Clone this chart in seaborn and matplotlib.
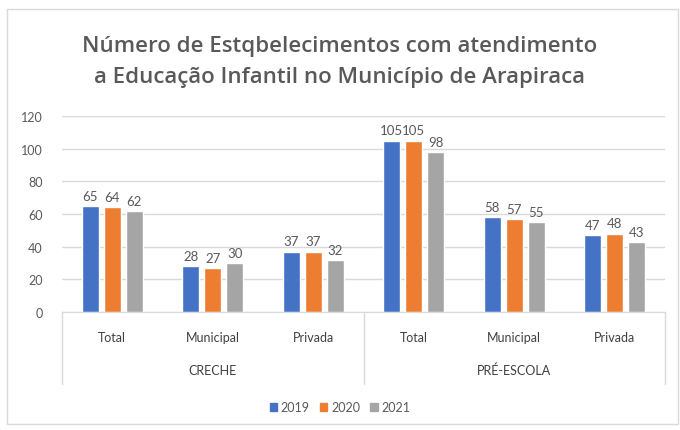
import matplotlib
matplotlib.use("Agg")
import matplotlib.pyplot as plt
import matplotlib.patches as mpatches
import seaborn as sns
import pandas as pd

# dados
niveis = ['CRECHE', 'PRÉ-ESCOLA']
redes = ['Total', 'Municipal', 'Privada']
anos = ['2019', '2020', '2021']
v2019 = [65, 28, 37, 105, 58, 47]
v2020 = [64, 27, 37, 105, 57, 48]
v2021 = [62, 30, 32, 98, 55, 43]
cores = ['#4472C4', '#ED7D31', '#A5A5A5']
titulo = 'Número de Estqbelecimentos com atendimento\na Educação Infantil no Município de Arapiraca'

chaves = [n + '|' + r for n in niveis for r in redes]
df = pd.DataFrame({
    'chave': chaves * 3,
    'ano': [a for a in anos for _ in chaves],
    'valor': v2019 + v2020 + v2021,
})

sns.set_style('white')
plt.rcParams['font.family'] = ['Lato', 'DejaVu Sans']
cinza = '#595959'

fig = plt.figure(figsize=(6.8, 4.31), dpi=100)
fig.patch.set_facecolor('white')
fig.patches.append(mpatches.Rectangle((7 / 680, 1 - 425 / 431), 671 / 680, 415 / 431,
                                      transform=fig.transFigure, fill=False,
                                      edgecolor='#D9D9D9', linewidth=1))
ax = fig.add_axes([62 / 680, 1 - 313 / 431, 603 / 680, 196 / 431])

sns.barplot(data=df, x='chave', y='valor', hue='ano', palette=cores,
            width=0.66, gap=0.23, ax=ax, legend=False, saturation=1)

for c in ax.containers:
    ax.bar_label(c, padding=3, color=cinza, fontsize=9.5)

ax.set_ylim(0, 120)
ax.set_xlim(-0.5, 5.5)
ax.set_yticks(range(0, 121, 20))
ax.yaxis.grid(True, color='#D9D9D9', linewidth=1)
ax.set_axisbelow(True)
for s in ['top', 'right', 'left']:
    ax.spines[s].set_visible(False)
ax.spines['bottom'].set_color('#D9D9D9')
ax.tick_params(axis='y', length=0, colors=cinza, labelsize=9, pad=14)
ax.tick_params(axis='x', length=0, colors='#404040', labelsize=9, pad=14)
ax.set_xticks(range(len(chaves)))
ax.set_xticklabels([c.split('|')[1] for c in chaves])
ax.set_xlabel('')
ax.set_ylabel('')

# eixo de categorias em dois níveis
trans = ax.get_xaxis_transform()
for xs in [-0.5, 2.5, 5.5]:
    ax.plot([xs, xs], [0, -72 / 196], transform=trans, color='#D9D9D9',
            linewidth=1, clip_on=False)
for i, n in enumerate(niveis):
    ax.text(i * 3 + 1, -58 / 196, n, transform=trans, ha='center', va='center',
            color='#404040', fontsize=9)

fig.text(0.5, 1 - 62 / 431, titulo, ha='center', va='center', fontsize=16,
         color=cinza, linespacing=1.6, family=['Open Sans', 'DejaVu Sans'],
         fontweight='semibold')

handles = [mpatches.Patch(color=c, label=a) for c, a in zip(cores, anos)]
fig.legend(handles=handles, loc='center', bbox_to_anchor=(0.5, 1 - 408 / 431),
           ncol=3, frameon=False, fontsize=9, handlelength=0.6, handleheight=0.6,
           handletextpad=0.3, columnspacing=0.8, labelcolor=cinza)

fig.savefig('out.png', dpi=100)
